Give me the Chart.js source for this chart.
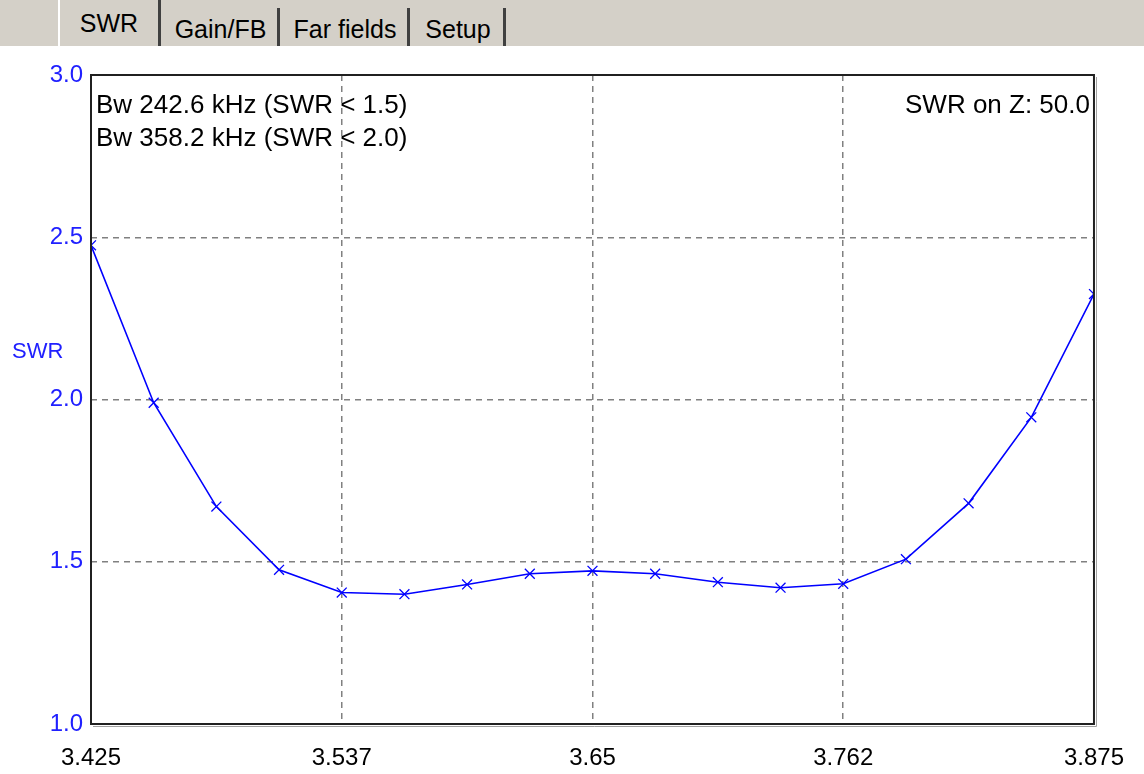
<!DOCTYPE html>
<html>
<head>
<meta charset="utf-8">
<script src="https://cdn.jsdelivr.net/npm/chart.js@4.4.1/dist/chart.umd.min.js"></script>
<style>
  html, body { margin: 0; padding: 0; background: #fff; }
  #wrap { position: relative; width: 1144px; height: 774px; overflow: hidden; }
  #swr-chart { position: absolute; left: 0; top: 0; }
  .tabbar {
    position: absolute; left: 0; top: 0; width: 1144px; height: 46px;
    background: #d4d0c8; border-bottom: 2px solid #fff;
    font-family: "Liberation Sans", Arial, sans-serif; font-size: 25px; color: #000;
  }
  .tab {
    position: absolute; top: 8px; height: 38px; line-height: 42px;
    text-align: center; box-sizing: border-box;
    border-right: 3px solid #404040;
  }
  .tab.active { top: 0; height: 46px; line-height: 46px; border-left: 2px solid #fff; }
</style>
</head>
<body>
<div id="wrap">
  <canvas id="swr-chart" width="1144" height="774"></canvas>
  <div class="tabbar">
    <div class="tab active" style="left:58px;width:103px;">SWR</div>
    <div class="tab" style="left:164px;width:116px;">Gain/FB</div>
    <div class="tab" style="left:283px;width:127px;">Far fields</div>
    <div class="tab" style="left:413px;width:93px;">Setup</div>
  </div>
</div>
<script>
// frequency (MHz) of each computed point
const freqs = [3.425, 3.453125, 3.48125, 3.509375, 3.5375, 3.565625, 3.59375, 3.621875, 3.65,
               3.678125, 3.70625, 3.734375, 3.7625, 3.790625, 3.81875, 3.846875, 3.875];
// SWR
const swrValues = [2.475, 1.99, 1.67, 1.475, 1.405, 1.40, 1.43, 1.463, 1.472,
                   1.463, 1.437, 1.42, 1.432, 1.508, 1.68, 1.945, 2.325];

const xTicks = [3.425, 3.5375, 3.65, 3.7625, 3.875];
const xTickLabels = ['3.425', '3.537', '3.65', '3.762', '3.875'];
const yTicks = [1.0, 1.5, 2.0, 2.5, 3.0];
const yTickLabels = ['1.0', '1.5', '2.0', '2.5', '3.0'];

const infoLeft = ['Bw 242.6 kHz (SWR < 1.5)', 'Bw 358.2 kHz (SWR < 2.0)'];
const infoRight = 'SWR on Z: 50.0';
const yTitle = 'SWR';

const FONT = '"Liberation Sans", Arial, sans-serif';
const BLUE = '#0000ff';
const GRID = '#808080';

// frame, axis title and bandwidth text
const overlayPlugin = {
  id: 'overlay',
  afterDraw(chart) {
    const { ctx, chartArea: a } = chart;
    ctx.save();
    // shadow then frame
    ctx.strokeStyle = '#a0a0a0';
    ctx.lineWidth = 1;
    ctx.beginPath();
    ctx.moveTo(a.right + 2.5, a.top + 2);
    ctx.lineTo(a.right + 2.5, a.bottom + 2.5);
    ctx.lineTo(a.left + 2, a.bottom + 2.5);
    ctx.stroke();
    ctx.strokeStyle = '#202020';
    ctx.lineWidth = 2;
    ctx.strokeRect(a.left, a.top, a.right - a.left, a.bottom - a.top);

    ctx.font = '26px ' + FONT;
    ctx.fillStyle = '#000';
    ctx.textBaseline = 'top';
    ctx.textAlign = 'left';
    ctx.fillText(infoLeft[0], a.left + 5, a.top + 18);
    ctx.fillText(infoLeft[1], a.left + 5, a.top + 51);
    ctx.textAlign = 'right';
    ctx.fillText(infoRight, a.right - 4, a.top + 18);

    ctx.font = '22px ' + FONT;
    ctx.fillStyle = '#2020ff';
    ctx.textAlign = 'left';
    ctx.textBaseline = 'middle';
    ctx.fillText(yTitle, 12, 352);
    ctx.restore();
  }
};

const dashedGrid = {
  drawTicks: false,
  color: (c) => (c.index === 0 || c.index === c.chart.scales[c.scale.id].ticks.length - 1) ? 'rgba(0,0,0,0)' : GRID,
  lineWidth: 1.5
};

new Chart(document.getElementById('swr-chart'), {
  type: 'line',
  data: {
    datasets: [{
      label: 'SWR',
      data: freqs.map((f, i) => ({ x: f, y: swrValues[i] })),
      borderColor: BLUE,
      backgroundColor: BLUE,
      borderWidth: 1.6,
      pointStyle: 'crossRot',
      pointRadius: 7,
      pointBorderWidth: 1.3,
      pointBorderColor: BLUE,
      tension: 0,
      fill: false
    }]
  },
  options: {
    responsive: false,
    animation: false,
    events: [],
    layout: { padding: { left: 0, top: 75, right: 44, bottom: 0 } },
    plugins: { legend: { display: false }, tooltip: { enabled: false } },
    scales: {
      x: {
        type: 'linear',
        min: 3.425,
        max: 3.875,
        afterFit: (s) => { s.height = 50; },
        afterBuildTicks: (s) => { s.ticks = xTicks.map(v => ({ value: v })); },
        border: { display: false, dash: [6, 5] },
        grid: dashedGrid,
        ticks: {
          padding: 20,
          color: '#000',
          font: { family: FONT, size: 24 },
          maxRotation: 0,
          callback: (v) => xTickLabels[xTicks.indexOf(v)] ?? ''
        }
      },
      y: {
        min: 1,
        max: 3,
        afterFit: (s) => { s.width = 91; },
        afterBuildTicks: (s) => { s.ticks = yTicks.map(v => ({ value: v })); },
        border: { display: false, dash: [6, 5] },
        grid: dashedGrid,
        ticks: {
          padding: 8,
          color: '#2020ff',
          font: { family: FONT, size: 24 },
          callback: (v) => yTickLabels[yTicks.indexOf(v)] ?? ''
        }
      }
    }
  },
  plugins: [overlayPlugin]
});
</script>
</body>
</html>
